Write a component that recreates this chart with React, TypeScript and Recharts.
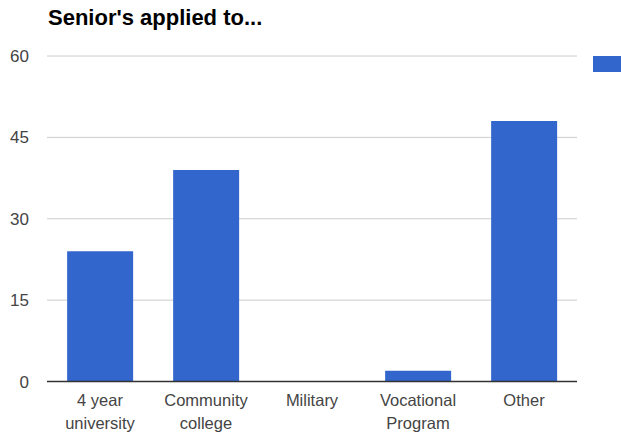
import { BarChart, Bar, XAxis, YAxis, CartesianGrid, Legend } from 'recharts'

const TITLE = "Senior's applied to..."
const CATEGORIES = ['4 year\nuniversity', 'Community\ncollege', 'Military', 'Vocational\nProgram', 'Other']
const COUNTS = [24, 39, 0, 2, 48]
const Y_TICKS = [0, 15, 30, 45, 60]

const BLUE = '#3366cc'
const FONT = '"Liberation Sans", Arial, sans-serif'

const data = CATEGORIES.map((name, i) => ({ name, count: COUNTS[i] }))

function CategoryTick({ x, y, payload }: any) {
  const lines = String(payload.value).split('\n')
  return (
    <text x={x} y={y} textAnchor="middle" fill="#444" fontSize={16.5} fontFamily={FONT}>
      {lines.map((line, i) => (
        <tspan key={i} x={x} dy={i === 0 ? 24.5 : 23}>{line}</tspan>
      ))}
    </text>
  )
}

function LegendSwatch() {
  return (
    <div style={{ width: 44, height: 16 }}>
      <div style={{ marginLeft: 16, width: 28, height: 16, backgroundColor: BLUE }} />
    </div>
  )
}

export default function App() {
  return (
    <div style={{ position: 'absolute', left: 0, top: 0, width: 621, height: 439, background: '#fff' }}>
      <div style={{ position: 'absolute', left: 48, top: 6, fontFamily: FONT, fontWeight: 700, fontSize: 22, color: '#000', lineHeight: '24px' }}>
        {TITLE}
      </div>
      <BarChart
        width={621}
        height={439}
        data={data}
        margin={{ top: 56, right: 0, bottom: 7.5, left: 0 }}
        barCategoryGap="19%"
      >
        <CartesianGrid horizontal vertical={false} stroke="#cccccc" />
        <XAxis
          dataKey="name"
          height={50}
          tickLine={false}
          tickSize={0}
          tickMargin={0}
          axisLine={{ stroke: '#333', strokeWidth: 1.5 }}
          tick={<CategoryTick />}
          interval={0}
        />
        <YAxis
          width={47}
          domain={[0, 60]}
          ticks={Y_TICKS}
          axisLine={false}
          tickLine={false}
          tickSize={0}
          tickMargin={18}
          tick={{ fill: '#444', fontSize: 17, fontFamily: FONT }}
        />
        <Legend
          layout="vertical"
          align="right"
          verticalAlign="top"
          content={<LegendSwatch />}
        />
        <Bar dataKey="count" fill={BLUE} isAnimationActive={false} />
      </BarChart>
    </div>
  )
}
